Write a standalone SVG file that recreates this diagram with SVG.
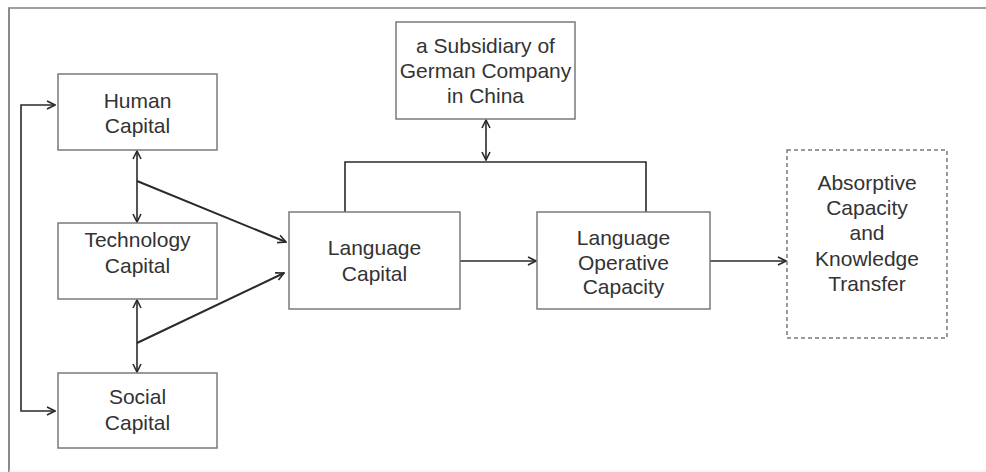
<svg xmlns="http://www.w3.org/2000/svg" width="986" height="472" viewBox="0 0 986 472">
<defs>
<style>
.box{fill:#fff;stroke:#7a7a7a;stroke-width:1.5}
.dash{fill:#fff;stroke:#7a7a7a;stroke-width:1.5;stroke-dasharray:4 3}
.t{font-family:"Liberation Sans",Arial,sans-serif;font-size:21px;fill:#333;text-anchor:middle}
.c{fill:none;stroke:#2a2a2a;stroke-width:1.6}
.c2{fill:none;stroke:#2a2a2a;stroke-width:2}
</style>
<marker id="ah" viewBox="0 0 10 10" refX="9" refY="5" markerWidth="10" markerHeight="10" markerUnits="userSpaceOnUse" orient="auto-start-reverse">
<path d="M1,1 L9,5 L1,9" fill="none" stroke="#2a2a2a" stroke-width="1.6"/>
</marker>
</defs>
<rect width="986" height="472" fill="#fff"/>
<g id="frame">
<line x1="8" y1="8" x2="986" y2="8" stroke="#a0a0a0" stroke-width="2"/>
<line x1="9" y1="8" x2="9" y2="472" stroke="#8a8a8a" stroke-width="2"/>
<line x1="9" y1="471" x2="986" y2="471" stroke="#eeeeee" stroke-width="1"/>
</g>
<g id="connectors">
<path class="c" d="M55,105 L21,105 L21,411 L55,411" marker-start="url(#ah)" marker-end="url(#ah)"/>
<line class="c" x1="137" y1="151" x2="137" y2="222" marker-start="url(#ah)" marker-end="url(#ah)"/>
<line class="c" x1="137" y1="300" x2="137" y2="372" marker-start="url(#ah)" marker-end="url(#ah)"/>
<line class="c2" x1="137" y1="181" x2="286" y2="242" marker-end="url(#ah)"/>
<line class="c2" x1="137" y1="343" x2="284" y2="273" marker-end="url(#ah)"/>
<line class="c" x1="486" y1="120" x2="486" y2="160" marker-start="url(#ah)" marker-end="url(#ah)"/>
<path class="c" d="M345,212 L345,162 L646,162 L646,212"/>
<line class="c" x1="460" y1="261" x2="536" y2="261" marker-end="url(#ah)"/>
<line class="c" x1="710" y1="261" x2="786" y2="261" marker-end="url(#ah)"/>
</g>
<g id="human">
<rect class="box" x="58" y="74" width="159" height="76"/>
<text class="t" x="137.5" y="108">Human</text>
<text class="t" x="137.5" y="133">Capital</text>
</g>
<g id="technology">
<rect class="box" x="58" y="223" width="159" height="76"/>
<text class="t" x="137.5" y="247">Technology</text>
<text class="t" x="137.5" y="273">Capital</text>
</g>
<g id="social">
<rect class="box" x="58" y="373" width="159" height="75"/>
<text class="t" x="137.5" y="404">Social</text>
<text class="t" x="137.5" y="430">Capital</text>
</g>
<g id="subsidiary">
<rect class="box" x="396" y="22" width="179" height="97"/>
<text class="t" x="485.5" y="53">a Subsidiary of</text>
<text class="t" x="485.5" y="78">German Company</text>
<text class="t" x="485.5" y="103">in China</text>
</g>
<g id="language">
<rect class="box" x="289" y="212" width="171" height="97"/>
<text class="t" x="374.5" y="255">Language</text>
<text class="t" x="374.5" y="281">Capital</text>
</g>
<g id="operative">
<rect class="box" x="537" y="212" width="173" height="97"/>
<text class="t" x="623.5" y="245">Language</text>
<text class="t" x="623.5" y="270">Operative</text>
<text class="t" x="623.5" y="294">Capacity</text>
</g>
<g id="absorptive">
<rect class="dash" x="787" y="150" width="160" height="188"/>
<text class="t" x="867" y="190">Absorptive</text>
<text class="t" x="867" y="215">Capacity</text>
<text class="t" x="867" y="240">and</text>
<text class="t" x="867" y="266">Knowledge</text>
<text class="t" x="867" y="291">Transfer</text>
</g>
</svg>
